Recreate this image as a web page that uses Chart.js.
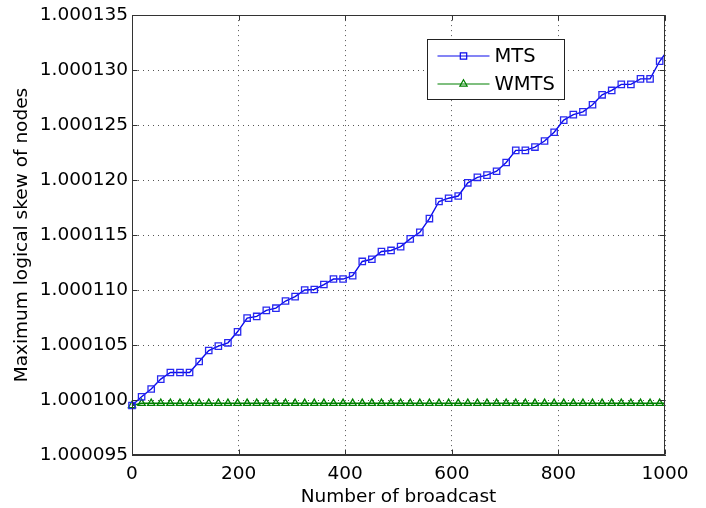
<!DOCTYPE html>
<html>
<head>
<meta charset="utf-8">
<title>Maximum logical skew of nodes</title>
<script src="https://cdn.jsdelivr.net/npm/chart.js@4.4.1/dist/chart.umd.min.js"></script>
<style>
  body { margin: 0; background: #fff; }
  #wrap { width: 706px; height: 508px; }
</style>
</head>
<body>
<div id="wrap"><canvas id="skewChart" width="706" height="508"></canvas></div>
<script>
// number of broadcasts (last one sits just past the axis and gets clipped)
const broadcasts = [0, 18, 36, 54, 72, 90, 108, 126, 144, 162, 180, 198, 216, 234, 252,
  270, 288, 306, 324, 342, 360, 378, 396, 414, 432, 450, 468, 486, 504, 522, 540, 558,
  576, 594, 612, 630, 648, 666, 684, 702, 720, 738, 756, 774, 792, 810, 828, 846, 864,
  882, 900, 918, 936, 954, 972, 990, 1008];

const mtsSkew = [1.0000995, 1.0001003, 1.0001010, 1.0001019, 1.0001025, 1.0001025,
  1.0001025, 1.0001035, 1.0001045, 1.0001049, 1.0001052, 1.0001062, 1.00010745,
  1.0001076, 1.00010815, 1.00010835, 1.0001090, 1.0001094, 1.0001100, 1.00011005,
  1.0001105, 1.0001110, 1.0001110, 1.0001113, 1.0001126, 1.0001128, 1.0001135,
  1.0001136, 1.00011395, 1.00011465, 1.00011525, 1.0001165, 1.00011805, 1.00011835,
  1.00011855, 1.00011975, 1.00012025, 1.00012045, 1.0001208, 1.0001216, 1.0001227,
  1.0001227, 1.0001230, 1.00012355, 1.00012435, 1.00012545, 1.00012595, 1.0001262,
  1.00012685, 1.00012775, 1.00012815, 1.0001287, 1.0001287, 1.0001292, 1.0001292,
  1.0001308, 1.0001320];

const wmtsSkew = [1.0000995, 1.0000997, 1.0000997, 1.0000997, 1.0000997, 1.0000997,
  1.0000997, 1.0000997, 1.0000997, 1.0000997, 1.0000997, 1.0000997, 1.0000997,
  1.0000997, 1.0000997, 1.0000997, 1.0000997, 1.0000997, 1.0000997, 1.0000997,
  1.0000997, 1.0000997, 1.0000997, 1.0000997, 1.0000997, 1.0000997, 1.0000997,
  1.0000997, 1.0000997, 1.0000997, 1.0000997, 1.0000997, 1.0000997, 1.0000997,
  1.0000997, 1.0000997, 1.0000997, 1.0000997, 1.0000997, 1.0000997, 1.0000997,
  1.0000997, 1.0000997, 1.0000997, 1.0000997, 1.0000997, 1.0000997, 1.0000997,
  1.0000997, 1.0000997, 1.0000997, 1.0000997, 1.0000997, 1.0000997, 1.0000997,
  1.0000997, 1.0000997];

const xTicks = [0, 200, 400, 600, 800, 1000];
const yTicks = [1.000095, 1.000100, 1.000105, 1.000110, 1.000115, 1.000120,
  1.000125, 1.000130, 1.000135];

const seriesNames = ["MTS", "WMTS"];

Chart.defaults.font.family = "'DejaVu Sans', sans-serif";
Chart.defaults.font.size = 18.5;
Chart.defaults.color = "#000";

// matlab style box, inward ticks and the legend
const frame = {
  id: "frame",
  afterDatasetsDraw(chart) {
    const { ctx, chartArea: a, scales } = chart;
    const l = Math.round(a.left) + 0.5, r = Math.round(a.right) - 0.5;
    const t = Math.round(a.top) + 0.5, b = Math.round(a.bottom) - 0.5;
    ctx.save();
    ctx.strokeStyle = "#333";
    ctx.lineWidth = 1;
    ctx.strokeRect(l, t, r - l, b - t);

    ctx.beginPath();
    xTicks.forEach((v) => {
      const px = Math.round(scales.x.getPixelForValue(v)) + 0.5;
      ctx.moveTo(px, b); ctx.lineTo(px, b - 5);
      ctx.moveTo(px, t); ctx.lineTo(px, t + 5);
    });
    yTicks.forEach((v) => {
      const py = Math.round(scales.y.getPixelForValue(v)) + 0.5;
      ctx.moveTo(l, py); ctx.lineTo(l + 5, py);
      ctx.moveTo(r, py); ctx.lineTo(r - 5, py);
    });
    ctx.stroke();

    // legend box
    const lx = Math.round(a.left) + 295.5, ly = Math.round(a.top) + 24.5;
    ctx.fillStyle = "#fff";
    ctx.fillRect(lx, ly, 137, 60);
    ctx.strokeStyle = "#222";
    ctx.strokeRect(lx, ly, 137, 60);

    chart.data.datasets.forEach((ds, i) => {
      const y = Math.round(ly + 16 + i * 28);
      const mx = lx + 36;
      ctx.strokeStyle = ds.borderColor;
      ctx.lineWidth = 1.2;
      ctx.beginPath();
      ctx.moveTo(lx + 10, y);
      ctx.lineTo(lx + 62, y);
      ctx.stroke();
      ctx.beginPath();
      if (ds.pointStyle === "rect") {
        ctx.rect(mx - 3.2, y - 3.2, 6.4, 6.4);
      } else {
        const rr = ds.pointRadius;
        ctx.moveTo(mx, y - rr);
        ctx.lineTo(mx + rr * 0.866, y + rr * 0.5);
        ctx.lineTo(mx - rr * 0.866, y + rr * 0.5);
        ctx.closePath();
      }
      ctx.stroke();
      ctx.fillStyle = "#000";
      ctx.font = "19.5px 'DejaVu Sans', sans-serif";
      ctx.textBaseline = "middle";
      ctx.textAlign = "left";
      ctx.fillText(ds.label, lx + 67, y + 1);
    });
    ctx.restore();
  }
};

const config = {
  type: "line",
  data: {
    datasets: [
      {
        label: seriesNames[0],
        data: broadcasts.map((b, i) => ({ x: b, y: mtsSkew[i] })),
        borderColor: "rgb(10, 10, 235)",
        borderWidth: 1.4,
        pointStyle: "rect",
        pointRadius: 4.5,
        pointBorderWidth: 1.3,
        pointBorderColor: "rgb(40, 40, 240)",
        pointBackgroundColor: "rgba(0,0,0,0)",
        tension: 0,
        clip: { left: 8, top: 8, right: 0, bottom: 8 }
      },
      {
        label: seriesNames[1],
        data: broadcasts.map((b, i) => ({ x: b, y: wmtsSkew[i] })),
        borderColor: "rgb(0, 128, 0)",
        borderWidth: 1.4,
        pointStyle: "triangle",
        pointRadius: 4.2,
        pointBorderWidth: 1.3,
        pointBorderColor: "rgb(0, 128, 0)",
        pointBackgroundColor: "rgba(0,0,0,0)",
        tension: 0,
        clip: { left: 8, top: 8, right: 0, bottom: 8 }
      }
    ]
  },
  options: {
    responsive: false,
    animation: false,
    devicePixelRatio: 1,
    layout: { padding: { left: 0, top: 14, right: 41, bottom: 0 } },
    plugins: {
      legend: { display: false },
      tooltip: { enabled: false }
    },
    scales: {
      x: {
        type: "linear",
        min: 0,
        max: 1000,
        afterBuildTicks: (s) => { s.ticks = xTicks.map((v) => ({ value: v })); },
        afterFit: (s) => { s.height = 53; },
        grid: { color: "#555", lineWidth: 1, drawTicks: false },
        border: { color: "#333", dash: [1, 4] },
        ticks: { padding: 8, maxRotation: 0, callback: (v) => String(v) },
        title: { display: true, text: "Number of broadcast", padding: { top: 0, bottom: 0 } }
      },
      y: {
        type: "linear",
        min: yTicks[0],
        max: yTicks[yTicks.length - 1],
        afterBuildTicks: (s) => { s.ticks = yTicks.map((v) => ({ value: v })); },
        afterFit: (s) => { s.width = 132; },
        grid: { color: "#555", lineWidth: 1, drawTicks: false },
        border: { color: "#333", dash: [1, 4] },
        ticks: { padding: 4, callback: (v) => Number(v).toFixed(6) },
        title: { display: true, text: "Maximum logical skew of nodes", padding: { top: 11, bottom: 0 } }
      }
    }
  },
  plugins: [frame]
};

const chart = new Chart(document.getElementById("skewChart"), config);
</script>
</body>
</html>
